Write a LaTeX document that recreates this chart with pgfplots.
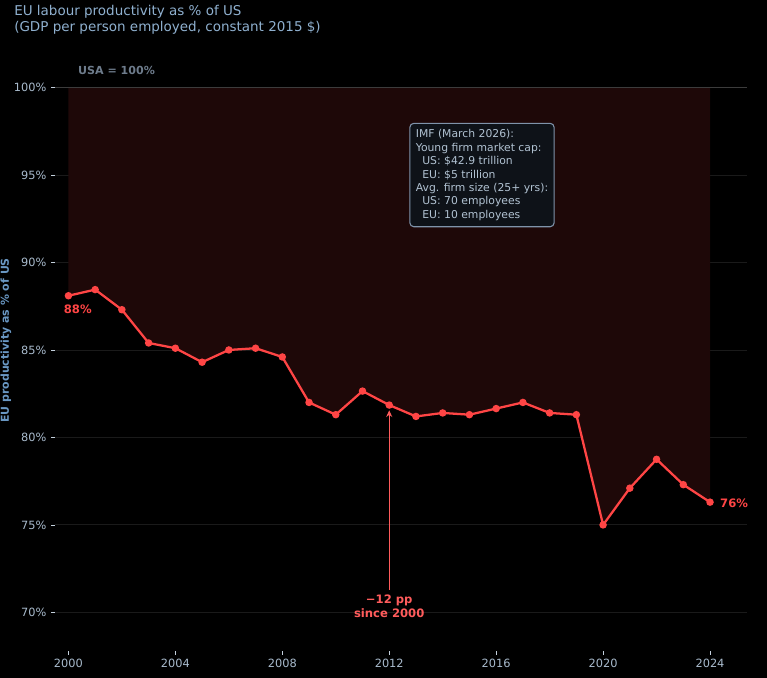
\documentclass[border=0pt]{standalone}
\usepackage{pgfplots}
\pgfplotsset{compat=1.18}
\usepackage{fontspec}
\setmainfont{DejaVu Sans}
\usetikzlibrary{arrows.meta}

\definecolor{bg}{HTML}{000000}
\definecolor{titlecol}{HTML}{8FB0CF}
\definecolor{tickcol}{HTML}{A9BBCD}
\definecolor{ylabcol}{HTML}{6A98C4}
\definecolor{eured}{HTML}{FF4545}
\definecolor{annred}{HTML}{FF5C5C}
\definecolor{gapfill}{HTML}{1E0808}
\definecolor{gridcol}{HTML}{1A1A1A}
\definecolor{usline}{HTML}{3C3C3C}
\definecolor{usacol}{HTML}{6E7C8C}
\definecolor{boxfill}{HTML}{0E1218}
\definecolor{boxdraw}{HTML}{7F93AA}

\begin{document}
\begin{tikzpicture}
% page = 767x677 px at 0.75pt/px, axis box lower left at px (55,650)
\fill[bg] (-41.25pt,-20.25pt) rectangle (533.25pt,487.5pt);
\path[use as bounding box] (-41.25pt,-20.25pt) rectangle (533.25pt,487.5pt);

\begin{axis}[
    scale only axis,
    width=518.6pt, height=435pt,
    xmin=1999.5, xmax=2025.4,
    ymin=67.8, ymax=101,
    axis line style={draw=none},
    clip=false,
    xtick={2000,2004,...,2024},
    ytick={70,75,...,100},
    yticklabel={\pgfmathprintnumber{\tick}\%},
    /pgf/number format/1000 sep={},
    /pgf/number format/assume math mode=true,
    tick align=outside,
    major tick length=3pt,
    tick style={color=tickcol!70, line width=0.5pt},
    xtick pos=bottom, ytick pos=left,
    ticklabel style={font=\fontsize{8.5}{10}\selectfont, text=tickcol},
    ymajorgrids, grid style={color=gridcol, line width=0.6pt},
]

% gap to the US level
\addplot[fill=gapfill, draw=none] coordinates {
(2000,100) (2000,88.1) (2001,88.45) (2002,87.3) (2003,85.4) (2004,85.1)
(2005,84.3) (2006,85.0) (2007,85.1) (2008,84.6) (2009,82.0) (2010,81.3)
(2011,82.65) (2012,81.85) (2013,81.2) (2014,81.4) (2015,81.3) (2016,81.65)
(2017,82.0) (2018,81.4) (2019,81.3) (2020,75.0) (2021,77.1) (2022,78.75)
(2023,77.3) (2024,76.3) (2024,100)
};

% USA = 100% reference
\addplot[usline, line width=1.1pt] coordinates {(1999.5,100) (2025.4,100)};

% EU series
\addplot[eured, line width=1.7pt, mark=*, mark size=1.9pt] coordinates {
(2000,88.1) (2001,88.45) (2002,87.3) (2003,85.4) (2004,85.1)
(2005,84.3) (2006,85.0) (2007,85.1) (2008,84.6) (2009,82.0) (2010,81.3)
(2011,82.65) (2012,81.85) (2013,81.2) (2014,81.4) (2015,81.3) (2016,81.65)
(2017,82.0) (2018,81.4) (2019,81.3) (2020,75.0) (2021,77.1) (2022,78.75)
(2023,77.3) (2024,76.3)
};

\node[text=usacol, font=\bfseries\fontsize{8.3}{10}\selectfont] at (axis cs:2001.8,101.0) {USA = 100\%};
\node[text=eured, font=\bfseries\fontsize{8.7}{10}\selectfont] at (axis cs:2000.35,87.3) {88\%};
\node[text=eured, font=\bfseries\fontsize{8.7}{10}\selectfont] at (axis cs:2024.9,76.25) {76\%};

\draw[annred, line width=1pt, -{Stealth[length=5pt,width=4.5pt]}] (axis cs:2012,71.3) -- (axis cs:2012,81.55);
\node[text=annred, align=center, font=\bfseries\fontsize{8.7}{10.5}\selectfont] at (axis cs:2012,70.35) {−12 pp\\since 2000};

\node[draw=boxdraw, fill=boxfill, line width=0.8pt, rounded corners=3pt, align=left,
      text=tickcol!90!white, inner sep=4.5pt, font=\fontsize{8.1}{10.1}\selectfont]
      at (axis cs:2015.47,95.0)
      {IMF (March 2026):\\Young firm market cap:\\\hspace*{0.6em}US: \$42.9 trillion\\\hspace*{0.6em}EU: \$5 trillion\\Avg. firm size (25+ yrs):\\\hspace*{0.6em}US: 70 employees\\\hspace*{0.6em}EU: 10 employees};
\end{axis}

\node[anchor=north west, align=left, inner sep=0pt, text=titlecol,
      font=\fontsize{10.1}{12}\selectfont] at (-30.75pt,484pt)
      {EU labour productivity as \% of US\\(GDP per person employed, constant 2015 \$)};
\node[rotate=90, text=ylabcol, font=\bfseries\fontsize{8.2}{10}\selectfont] at (-36.75pt,232.5pt)
      {EU productivity as \% of US};
\end{tikzpicture}
\end{document}
